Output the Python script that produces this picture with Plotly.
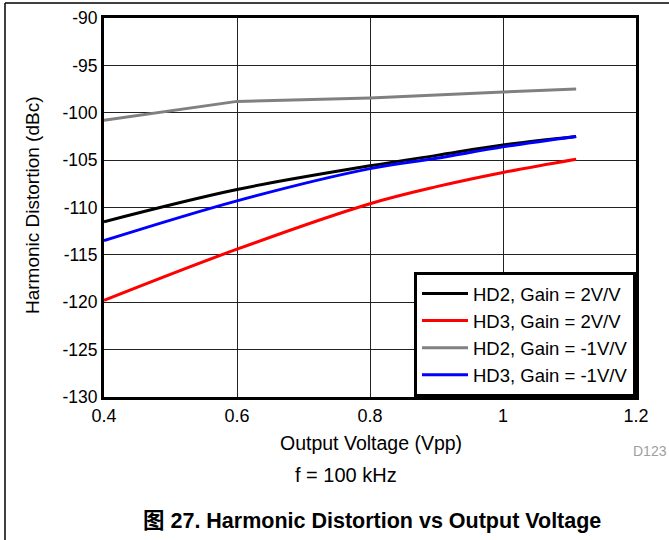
import plotly.graph_objects as go

x_vals = [0.4, 0.6, 0.8, 0.9, 1.0, 1.11]
hd2_gain2 = [-111.5, -108.1, -105.6, -104.5, -103.4, -102.5]
hd3_gain2 = [-119.8, -114.4, -109.6, -107.8, -106.3, -104.9]
hd2_gainm1 = [-100.8, -98.8, -98.45, -98.1, -97.8, -97.5]
hd3_gainm1 = [-113.5, -109.3, -105.9, -104.8, -103.6, -102.5]

series = [
    ("HD2, Gain = 2V/V", hd2_gain2, "#000000", "spline"),
    ("HD3, Gain = 2V/V", hd3_gain2, "#ff0000", "spline"),
    ("HD2, Gain = -1V/V", hd2_gainm1, "#808080", "linear"),
    ("HD3, Gain = -1V/V", hd3_gainm1, "#0000ff", "spline"),
]

x_ticks = [0.4, 0.6, 0.8, 1.0, 1.2]
x_tick_labels = ["0.4", "0.6", "0.8", "1", "1.2"]
y_ticks = [-130, -125, -120, -115, -110, -105, -100, -95, -90]
y_tick_labels = ["-130", "-125", "-120", "-115", "-110", "-105", "-100", "-95", "-90"]

FONT = "Liberation Sans, Arial, Noto Sans CJK SC, sans-serif"

# plot area in pixels (for placing annotations)
L, R, T, B = 104, 636, 18, 397
PW, PH = R - L, B - T


def px(x):
    return (x - L) / PW


def py(y):
    return (B - y) / PH


fig = go.Figure()
for name, ys, color, shape in series:
    fig.add_trace(go.Scatter(x=x_vals, y=ys, mode="lines", name=name,
                             line=dict(color=color, width=3, shape=shape)))

fig.update_layout(
    width=669, height=540,
    margin=dict(l=L, r=669 - R, t=T, b=540 - B, autoexpand=False),
    paper_bgcolor="white", plot_bgcolor="white",
    font=dict(family=FONT, size=18, color="black"),
    showlegend=True,
    legend=dict(x=1, y=0, xanchor="right", yanchor="bottom",
                bordercolor="black", borderwidth=3, bgcolor="white",
                font=dict(size=18.5), tracegroupgap=0, itemwidth=46),
    xaxis=dict(range=[0.4, 1.2], tickvals=x_ticks, ticktext=x_tick_labels,
               showgrid=True, gridcolor="#222222", gridwidth=1,
               showline=True, linecolor="black", linewidth=3, mirror=True,
               ticks="", zeroline=False, automargin=False,
               tickfont=dict(size=18)),
    yaxis=dict(range=[-130, -90], tickvals=y_ticks, ticktext=y_tick_labels,
               showgrid=True, gridcolor="#222222", gridwidth=1,
               showline=True, linecolor="black", linewidth=3, mirror=True,
               ticks="", zeroline=False, automargin=False,
               tickfont=dict(size=17.5)),
)

fig.add_annotation(text="Output Voltage (Vpp)", xref="paper", yref="paper",
                   x=px(371), y=py(443), showarrow=False,
                   font=dict(size=19.5), xanchor="center", yanchor="middle")
fig.add_annotation(text="Harmonic Distortion (dBc)", xref="paper", yref="paper",
                   x=px(32), y=py(205), showarrow=False, textangle=-90,
                   font=dict(size=19), xanchor="center", yanchor="middle")
fig.add_annotation(text="f = 100 kHz", xref="paper", yref="paper",
                   x=px(346), y=py(475), showarrow=False,
                   font=dict(size=20), xanchor="center", yanchor="middle")
fig.add_annotation(text="D123", xref="paper", yref="paper",
                   x=px(650), y=py(451), showarrow=False,
                   font=dict(size=14, color="#a0a0a0"), xanchor="center", yanchor="middle")
fig.add_annotation(text="<b>图 27. Harmonic Distortion vs Output Voltage</b>", xref="paper", yref="paper",
                   x=px(372), y=py(521), showarrow=False,
                   font=dict(size=21.5), xanchor="center", yanchor="middle")

# figure frame: top and left lines
fig.add_shape(type="line", xref="paper", yref="paper",
              x0=px(5), x1=px(680), y0=py(3), y1=py(3),
              line=dict(color="black", width=1.5))
fig.add_shape(type="line", xref="paper", yref="paper",
              x0=px(5), x1=px(5), y0=py(3), y1=py(560),
              line=dict(color="black", width=1.5))

fig.write_html("out.html", config={"displayModeBar": False},
               post_script="document.body.style.margin='0px';document.body.style.padding='0px';")
